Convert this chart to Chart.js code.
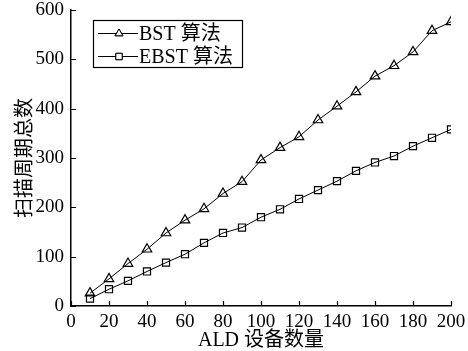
<!DOCTYPE html>
<html><head><meta charset="utf-8">
<script src="https://cdn.jsdelivr.net/npm/chart.js@4/dist/chart.umd.min.js"></script>
<style>html,body{margin:0;padding:0;background:#fff}#wrap{width:468px;height:351px}</style>
</head><body><div id="wrap"><canvas id="c" width="468" height="351"></canvas></div>
<script>
const deviceCounts = [10,20,30,40,50,60,70,80,90,100,110,120,130,140,150,160,170,180,190,200];
const bstValues = [26,55,86,115,148,174,197,228,252,296,321,343,377,405,434,466,487,515,558,576];
const ebstValues = [15,34,51,70,88,105,128,148,159,180,196,217,235,253,274,291,304,324,341,358];
const seriesLabels = ['BST 算法','EBST 算法'];
const xTicks = [0,20,40,60,80,100,120,140,160,180,200];
const yTicks = [0,100,200,300,400,500,600];
const xTitle = 'ALD 设备数量';
const yTitle = '扫描周期总数';

const SERIF = '"Liberation Serif","Times New Roman","Noto Sans CJK SC",serif';
const toPts = (vals) => deviceCounts.map((x,i)=>({x:x,y:vals[i]}));

const inwardTicks = {
  id:'inwardTicks',
  afterDraw(chart){
    const ctx = chart.ctx, xs = chart.scales.x, ys = chart.scales.y, a = chart.chartArea;
    ctx.save();
    ctx.strokeStyle = '#000'; ctx.lineWidth = 1.2;
    ctx.beginPath();
    xTicks.forEach(v=>{const px = Math.round(xs.getPixelForValue(v))+0.5; ctx.moveTo(px,a.bottom); ctx.lineTo(px,a.bottom-5);});
    yTicks.forEach(v=>{const py = Math.round(ys.getPixelForValue(v))+0.5; ctx.moveTo(a.left,py); ctx.lineTo(a.left+5,py);});
    ctx.stroke();
    ctx.restore();
  }
};

const boxLegend = {
  id:'boxLegend',
  afterDraw(chart){
    const ctx = chart.ctx;
    const bx = 93.5, by = 20.5, bw = 149, bh = 47;
    ctx.save();
    ctx.fillStyle = '#fff'; ctx.fillRect(bx,by,bw,bh);
    ctx.strokeStyle = '#000'; ctx.lineWidth = 1.2; ctx.strokeRect(bx,by,bw,bh);
    const rows = [33.5, 56.5];
    chart.data.datasets.forEach((ds,i)=>{
      const y = rows[i];
      ctx.strokeStyle = '#000'; ctx.lineWidth = 1;
      ctx.beginPath(); ctx.moveTo(98,y); ctx.lineTo(138,y); ctx.stroke();
      ctx.fillStyle = '#fff';
      Chart.helpers.drawPoint(ctx,{pointStyle:ds.pointStyle,radius:4.5,borderWidth:ds.pointBorderWidth},119,y);
      ctx.fill(); ctx.stroke();
      ctx.fillStyle = '#000';
      ctx.font = '20px ' + SERIF;
      ctx.textAlign = 'left'; ctx.textBaseline = 'middle';
      ctx.fillText(ds.label, 139, y+1);
    });
    ctx.restore();
  }
};

new Chart(document.getElementById('c'), {
  type:'line',
  data:{datasets:[
    {label:seriesLabels[0],data:toPts(bstValues),borderColor:'#000',borderWidth:1,pointStyle:'triangle',pointRadius:5.5,pointBorderWidth:1.2,pointBackgroundColor:'rgba(255,255,255,0)',pointBorderColor:'#000',tension:0},
    {label:seriesLabels[1],data:toPts(ebstValues),borderColor:'#000',borderWidth:1,pointStyle:'rect',pointRadius:5,pointBorderWidth:1.2,pointBackgroundColor:'rgba(255,255,255,0)',pointBorderColor:'#000',tension:0}
  ]},
  options:{
    responsive:false, animation:false,
    layout:{padding:{top:10,right:17,left:0,bottom:0}},
    plugins:{legend:{display:false},tooltip:{enabled:false}},
    scales:{
      x:{type:'linear',min:0,max:200,
        afterBuildTicks(s){s.ticks = xTicks.map(v=>({value:v}));},
        afterFit(s){s.height = 45; s.paddingLeft = 0; s.paddingRight = 0;},
        grid:{display:true,drawOnChartArea:false,drawTicks:false},
        border:{display:true,color:'#000',width:1.5},
        ticks:{color:'#000',padding:5,maxRotation:0,font:{family:SERIF,size:19}},
        title:{display:true,text:xTitle,color:'#000',font:{family:SERIF,size:20},padding:{top:0,bottom:-2}}
      },
      y:{type:'linear',min:0,max:600,
        afterBuildTicks(s){s.ticks = yTicks.map(v=>({value:v}));},
        afterFit(s){s.width = 71; s.paddingTop = 0; s.paddingBottom = 0;},
        grid:{display:true,drawOnChartArea:false,drawTicks:false},
        border:{display:true,color:'#000',width:1.5},
        ticks:{color:'#000',padding:7,font:{family:SERIF,size:19}},
        title:{display:true,text:yTitle,color:'#000',font:{family:SERIF,size:20},padding:{top:14,bottom:0}}
      }
    }
  },
  plugins:[inwardTicks,boxLegend]
});
</script></body></html>
